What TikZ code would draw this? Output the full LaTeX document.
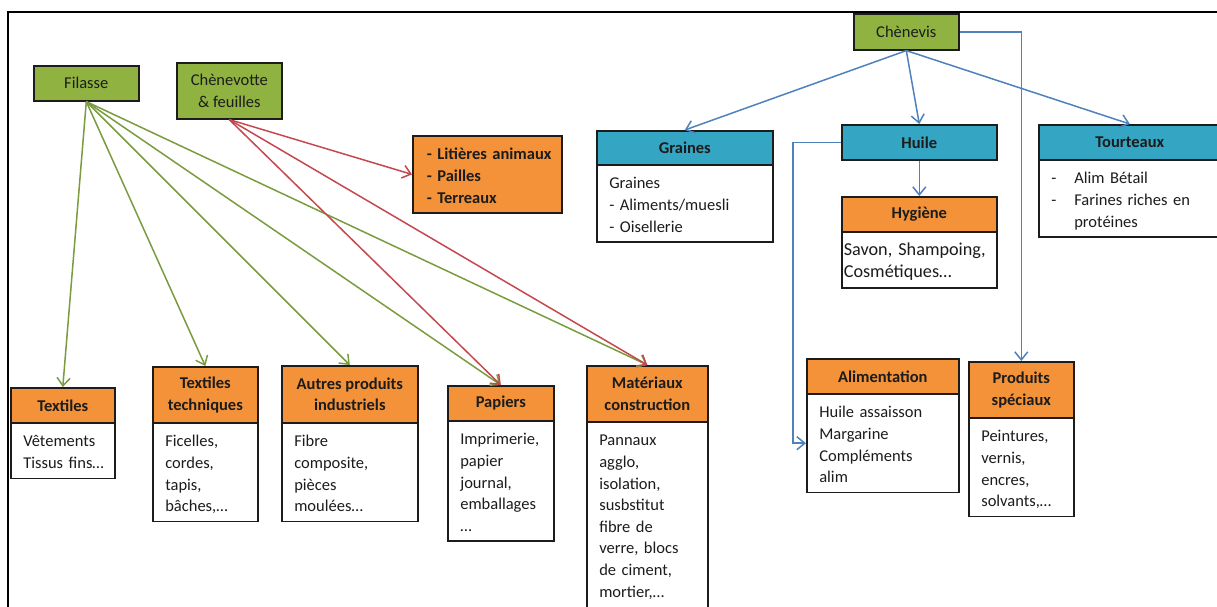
\documentclass[tikz,border=0pt]{standalone}
\usepackage{fontspec}
\setmainfont{Carlito}
\usetikzlibrary{arrows.meta,calc}
\definecolor{cgreen}{RGB}{143,178,64}
\definecolor{cteal}{RGB}{52,165,195}
\definecolor{corange}{RGB}{243,146,56}
\definecolor{lgreen}{RGB}{122,155,62}
\definecolor{lred}{RGB}{196,72,78}
\definecolor{lblue}{RGB}{79,129,189}
\definecolor{ink}{RGB}{28,28,28}
\newcommand\tst{\rule{0pt}{24pt}}
\newcommand\bst{\rule[-10pt]{0pt}{10pt}}
\newcommand\txtfont{\fontsize{16.5}{21.6}\selectfont\hyphenpenalty=10000\relax}
\newcommand\bigtxtfont{\fontsize{18.2}{22}\selectfont\hyphenpenalty=10000\relax}
\tikzset{
  x=1pt, y=-1pt,
  base/.style={draw=ink, line width=1.6pt, inner sep=0pt, text=ink, anchor=north west,
    font=\txtfont},
  gbox/.style={base, fill=cgreen, align=center},
  hdr/.style={base, align=center, font=\txtfont\bfseries},
  ohdr/.style={hdr, fill=corange},
  thdr/.style={hdr, fill=cteal},
  bodybox/.style={base, fill=white, align=left, inner xsep=12.5pt,
    execute at begin node=\tst, execute at end node=\bst},
  conn/.style={line width=1.5pt, -{Straight Barb[length=8pt,width=13pt]}},
  gline/.style={conn, draw=lgreen},
  rline/.style={conn, draw=lred},
  bline/.style={conn, draw=lblue},
}
\begin{document}
\begin{tikzpicture}
\useasboundingbox (0,0) rectangle (1217,606);
\draw[line width=2pt, black] (8,630) -- (8,12) -- (1240,12);

% sources
\node[gbox, minimum width=105pt, minimum height=35pt] (fil) at (33,65) {Filasse};
\node[gbox, minimum width=105pt, minimum height=56pt] (chv) at (176,62) {Chènevotte\\\& feuilles};
\node[gbox, minimum width=105pt, minimum height=36pt] (chs) at (853,13) {Chènevis};

% litieres
\node[bodybox, fill=corange, font=\txtfont\bfseries, inner xsep=0pt, text width=149pt, minimum width=149pt] (lit) at (412,135)
  {\hspace*{14pt}-~Litières~animaux\\\hspace*{14pt}-~Pailles\\\hspace*{14pt}-~Terreaux};

% Filasse products
\node[ohdr, minimum width=104pt, minimum height=35pt] (txh) at (10,387) {Textiles};
\node[bodybox, text width=79pt] (txb) at (10,422) {Vêtements\\Tissus~fins…};

\node[ohdr, minimum width=105pt, minimum height=56pt] (tch) at (152,366) {Textiles\\techniques};
\node[bodybox, text width=80pt] (tcb) at (152,422) {Ficelles,\\cordes,\\tapis,\\bâches,…};

\node[ohdr, minimum width=136pt, minimum height=57pt] (aph) at (281,365) {Autres produits\\industriels};
\node[bodybox, text width=111pt] (apb) at (281,422) {Fibre\\composite,\\pièces\\moulées…};

\node[ohdr, minimum width=106pt, minimum height=35pt] (pah) at (447,385) {Papiers};
\node[bodybox, text width=81pt] (pab) at (447,420) {Imprimerie,\\papier\\journal,\\emballages\\…};

\node[ohdr, minimum width=121pt, minimum height=56pt] (mah) at (586,365) {Matériaux\\construction};
\node[bodybox, text width=96pt, execute at begin node=\rule{0pt}{22pt}] (mab) at (586,421) {Pannaux\\agglo,\\isolation,\\susbstitut\\fibre~de\\verre,~blocs\\de~ciment,\\mortier,…\rule[-40pt]{0pt}{1pt}};

% Chenevis products
\node[thdr, minimum width=176pt, minimum height=34pt] (grh) at (596,130) {Graines};
\node[bodybox, text width=151pt] (grb) at (596,164) {Graines\\-~Aliments/muesli\\-~Oisellerie};

\node[thdr, minimum width=155pt, minimum height=35pt] (huh) at (841,124) {Huile};

\node[ohdr, minimum width=155pt, minimum height=35pt] (hyh) at (841,196) {Hygiène};
\node[bodybox, font=\bigtxtfont, inner xsep=2pt, text width=151pt] (hyb) at (841,231) {Savon,~Shampoing,\\Cosmétiques…};

\node[thdr, minimum width=182pt, minimum height=35pt] (tuh) at (1038,124) {Tourteaux};
\node[bodybox, text width=157pt] (tub) at (1038,159)
  {\makebox[23pt][l]{-}Alim~Bétail\\\makebox[23pt][l]{-}Farines~riches~en\\\hspace*{23pt}protéines};

\node[ohdr, minimum width=152pt, minimum height=35pt] (alh) at (806,358) {Alimentation};
\node[bodybox, text width=127pt] (alb) at (806,393) {Huile~assaisson\\Margarine\\Compléments\\alim};

\node[ohdr, minimum width=105pt, minimum height=56pt] (psh) at (968,361) {Produits\\spéciaux};
\node[bodybox, text width=80pt] (psb) at (968,417) {Peintures,\\vernis,\\encres,\\solvants,…};

% connectors: Filasse
\draw[gline] (fil.south) -- (txh.north);
\draw[gline] (fil.south) -- (tch.north);
\draw[gline] (fil.south) -- (aph.north);
\draw[gline] (fil.south) -- (pah.north);
\draw[gline] (fil.south) -- (mah.north);

% connectors: Chenevotte
\draw[rline] (chv.south) -- (lit.west);
\draw[rline] (chv.south) -- (pah.north);
\draw[rline] (chv.south) -- (mah.north);

% connectors: Chenevis
\draw[bline] (chs.south) -- (grh.north);
\draw[bline] (chs.south) -- (huh.north);
\draw[bline] (chs.south) -- (tuh.north);
\draw[bline] (chs.east) -| (psh.north);
\draw[bline] (huh.south) -- (hyh.north);
\draw[bline] (huh.west) -- ++(-48,0) |- (alb.west);
\end{tikzpicture}
\end{document}
